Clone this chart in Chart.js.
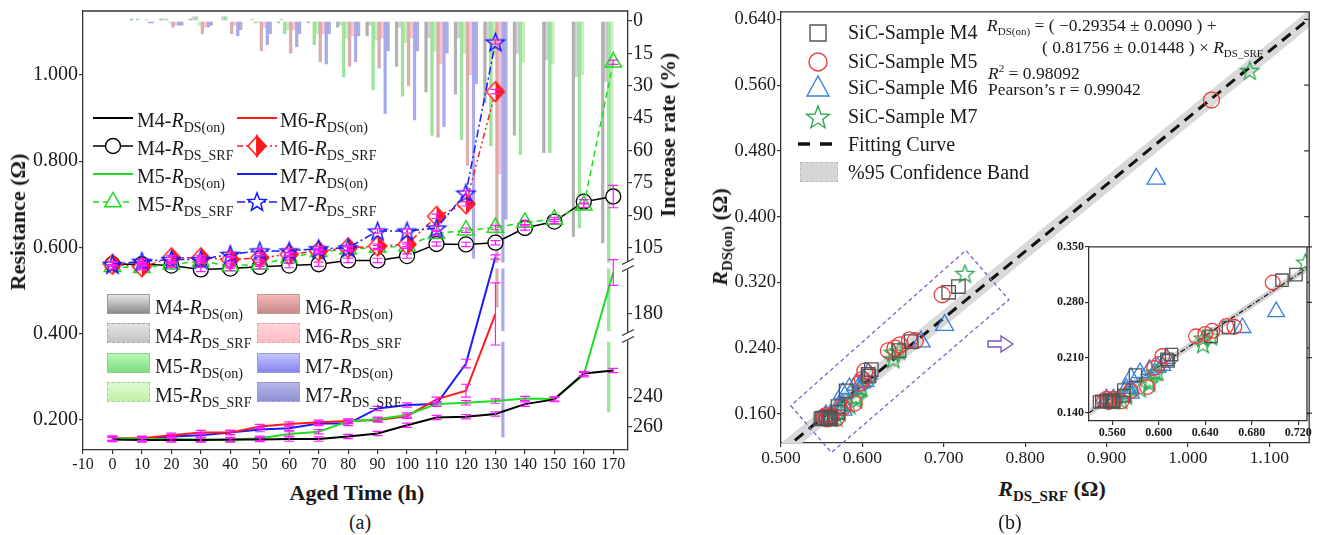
<!DOCTYPE html>
<html>
<head>
<meta charset="utf-8">
<title>SiC MOSFET ageing: R_DS(on) and R_DS_SRF</title>
<script src="https://cdn.jsdelivr.net/npm/chart.js@4.4.1/dist/chart.umd.min.js"></script>
<style>
  body { margin: 0; background: #fff; }
  #fig { position: relative; width: 1321px; height: 535px; overflow: hidden;
         font-family: "Liberation Serif", "Times New Roman", serif; color: #1a1a1a; }
  #fig canvas { position: absolute; }
  .t { position: absolute; white-space: nowrap; line-height: 24px; }
  .lg { font-size: 20px; }
  .lg .s { font-size: 14px; position: relative; top: 5px; }
  .eq { font-size: 17.5px; }
  .eq .s { font-size: 11px; position: relative; top: 4px; }
  .eq sup { font-size: 11px; }
  .ttl { font-size: 22px; font-weight: bold; }
  .ttl .s { font-size: 15px; position: relative; top: 5px; }
  .rot { transform: translate(-50%, -50%) rotate(-90deg); }
  .ctr { transform: translate(-50%, -50%); }
  .sym { position: absolute; overflow: visible; }
  .sw { position: absolute; width: 43px; height: 20px; box-sizing: border-box; }
</style>
</head>
<body>
<div id="fig">
  <canvas id="chartA" width="700" height="470" style="left:0;top:0"></canvas>
  <canvas id="chartB" width="621" height="470" style="left:700px;top:0"></canvas>
  <canvas id="chartC" width="281" height="204" style="left:1040px;top:236px"></canvas>
</div>
<script>
// ---------- panel (a): aged time (h) vs resistance (ohm) ----------
const HOURS = [0, 10, 20, 30, 40, 50, 60, 70, 80, 90, 100, 110, 120, 130, 140, 150, 160, 170];

const M4_RDSON = [0.155, 0.154, 0.154, 0.154, 0.155, 0.155, 0.156, 0.156, 0.162, 0.169, 0.188, 0.206, 0.208, 0.214, 0.237, 0.248, 0.308, 0.315];
const M5_RDSON = [0.158, 0.156, 0.156, 0.155, 0.154, 0.158, 0.168, 0.173, 0.197, 0.202, 0.212, 0.237, 0.240, 0.244, 0.250, 0.249, 0.305, 0.542];
const M6_RDSON = [0.158, 0.158, 0.165, 0.171, 0.171, 0.185, 0.191, 0.195, 0.198, 0.200, 0.209, 0.248, 0.268, 0.446, null, null, null, null];
const M7_RDSON = [0.156, 0.156, 0.162, 0.165, 0.171, 0.178, 0.181, 0.192, 0.192, 0.227, 0.235, 0.237, 0.331, 0.578, null, null, null, null];

const M4_SRF = [0.561, 0.561, 0.558, 0.549, 0.551, 0.555, 0.558, 0.561, 0.570, 0.570, 0.580, 0.608, 0.607, 0.611, 0.645, 0.660, 0.706, 0.718];
const M5_SRF = [0.555, 0.553, 0.561, 0.568, 0.557, 0.561, 0.576, 0.590, 0.596, 0.600, 0.603, 0.632, 0.640, 0.646, 0.658, 0.665, 0.698, 1.029];
const M6_SRF = [0.561, 0.555, 0.576, 0.576, 0.572, 0.576, 0.584, 0.592, 0.599, 0.603, 0.607, 0.672, 0.701, 0.961, null, null, null, null];
const M7_SRF = [0.561, 0.568, 0.572, 0.572, 0.584, 0.592, 0.592, 0.597, 0.599, 0.638, 0.638, 0.645, 0.726, 1.076, null, null, null, null];

// increase rate (%) bars hanging from the top axis
const M4_RDSON_RATE = [0, -1, -1, -1, 0, 0, 1, 1, 3, 7, 21, 33, 34, 38, 53, 61, 100, 103];
const M4_SRF_RATE   = [0, 0, -1, -2, -2, -1, -1, 0, 2, 2, 3, 8, 8, 9, 15, 18, 26, 28];
const M5_RDSON_RATE = [0, -1, -1, -2, -2, 1, 6, 11, 26, 32, 35, 53, 55, 58, 62, 61, 96, 250];
const M5_SRF_RATE   = [0, 0, 1, 2, 0, 1, 4, 6, 8, 9, 10, 14, 15, 16, 19, 20, 25, 85];
const M6_RDSON_RATE = [0, 0, 3, 6, 6, 14, 15, 19, 21, 22, 30, 54, 67, 176, null, null, null, null];
const M6_SRF_RATE   = [0, -1, 2, 3, 2, 3, 4, 6, 7, 8, 8, 20, 25, 71, null, null, null, null];
const M7_RDSON_RATE = [0, 1, 2, 3, 7, 11, 12, 20, 19, 43, 46, 49, 110, 267, null, null, null, null];
const M7_SRF_RATE   = [0, 1, 2, 2, 4, 6, 6, 6, 7, 14, 14, 15, 29, 92, null, null, null, null];

// error bars (ohm): one default, a few larger ones
const ERR_DEFAULT = 0.005;
const ERR_LARGE = [['M6_RDSON', 130, 0.072], ['M5_RDSON', 170, 0.03], ['M4_SRF', 170, 0.026],
                   ['M6_RDSON', 120, 0.015], ['M7_RDSON', 120, 0.01]];

const HOUR_TICKS = [-10, 0, 10, 20, 30, 40, 50, 60, 70, 80, 90, 100, 110, 120, 130, 140, 150, 160, 170];
const RES_TICKS = [0.2, 0.4, 0.6, 0.8, 1.0];
const RATE_TICKS = [0, 15, 30, 45, 60, 75, 90, 105, 180, 240, 260];

// ---------- panel (b): R_DS_SRF vs R_DS(on) ----------
const FIT_SRF = [0.5, 1.15];
const FIT_RON = [0.114, 0.642];
const BAND_UP = [0.1245, 0.6525];
const BAND_DN = [0.1035, 0.6315];
const INSET_FIT_SRF = [0.540, 0.728];
const INSET_FIT_RON = [0.1405, 0.3235];
const INSET_BAND_UP = [0.145, 0.328];
const INSET_BAND_DN = [0.136, 0.319];
const SRF_TICKS = [0.5, 0.6, 0.7, 0.8, 0.9, 1.0, 1.1];
const RON_TICKS = [0.16, 0.24, 0.32, 0.40, 0.48, 0.56, 0.64];
const INSET_X_TICKS = [0.56, 0.60, 0.64, 0.68, 0.72];
const INSET_Y_TICKS = [0.14, 0.21, 0.28, 0.35];
// dashed box drawn around the zoomed cluster (data coordinates)
const ZOOM_BOX = [[0.512, 0.170], [0.562, 0.113], [0.780, 0.299], [0.727, 0.359]];

// ---------- helpers ----------
const xy = (xs, ys) => xs.map((x, i) => ({ x, y: ys[i] })).filter(p => p.x != null && p.y != null);
const fixed = v => Number(v).toFixed(3);
const pinTicks = list => s => { s.ticks = list.map(v => ({ value: v })); };
const box = (w, h) => s => {
  if (w != null) s.width = w;
  if (h != null) s.height = h;
  s.paddingTop = s.paddingBottom = s.paddingLeft = s.paddingRight = 0;
};
function starPts(cx, cy, R, r) {
  const p = [];
  for (let k = 0; k < 10; k++) {
    const a = -Math.PI / 2 + k * Math.PI / 5, rr = k % 2 ? r : R;
    p.push([cx + rr * Math.cos(a), cy + rr * Math.sin(a)]);
  }
  return p;
}
function starImg(color, size, lw) {
  const c = document.createElement('canvas');
  c.width = c.height = size + 4;
  const g = c.getContext('2d');
  g.beginPath();
  starPts(c.width / 2, c.height / 2 + 1, size / 2, size * 0.21).forEach(([x, y]) => g.lineTo(x, y));
  g.closePath();
  g.strokeStyle = color; g.lineWidth = lw; g.stroke();
  return c;
}
function halfDiamondImg(color, w, h) {
  const c = document.createElement('canvas');
  c.width = w + 4; c.height = h + 4;
  const g = c.getContext('2d'), cx = c.width / 2, cy = c.height / 2;
  g.beginPath(); g.moveTo(cx, cy - h / 2); g.lineTo(cx - w / 2, cy); g.lineTo(cx, cy + h / 2); g.closePath();
  g.fillStyle = '#fff'; g.fill();
  g.beginPath(); g.moveTo(cx, cy - h / 2); g.lineTo(cx + w / 2, cy); g.lineTo(cx, cy + h / 2); g.closePath();
  g.fillStyle = color; g.fill();
  g.beginPath(); g.moveTo(cx, cy - h / 2); g.lineTo(cx + w / 2, cy); g.lineTo(cx, cy + h / 2); g.lineTo(cx - w / 2, cy); g.closePath();
  g.strokeStyle = color; g.lineWidth = 1.5; g.stroke();
  return c;
}

Chart.defaults.font.family = '"Liberation Serif", "Times New Roman", serif';
Chart.defaults.color = '#1a1a1a';

// right axis of (a): broken axis, piecewise linear [value, px from plot top]
const RATE_KNOTS = [[-5, -0.8], [112, 252.2], [150, 258], [192, 321], [203, 331.5], [275, 439.5]];
const RATE_BREAKS = [[112, 150], [192, 203]];
class BrokenScale extends Chart.LinearScale {
  getPixelForValue(v) {
    if (v == null) return NaN;
    const k = this.height / 440, K = RATE_KNOTS;
    let i = 0;
    while (i < K.length - 2 && v > K[i + 1][0]) i++;
    const [v0, p0] = K[i], [v1, p1] = K[i + 1];
    return this.top + k * (p0 + (v - v0) * (p1 - p0) / (v1 - v0));
  }
  getValueForPixel(px) {
    const k = this.height / 440, off = (px - this.top) / k, K = RATE_KNOTS;
    let i = 0;
    while (i < K.length - 2 && off > K[i + 1][1]) i++;
    const [v0, p0] = K[i], [v1, p1] = K[i + 1];
    return v0 + (off - p0) * (v1 - v0) / (p1 - p0);
  }
}
BrokenScale.id = 'broken';
BrokenScale.defaults = Chart.LinearScale.defaults;
Chart.register(BrokenScale);

// ---------- plugins ----------
const topLine = {
  id: 'topLine',
  afterDraw(chart) {
    const { ctx, chartArea: a } = chart;
    ctx.save(); ctx.strokeStyle = '#333'; ctx.lineWidth = 1.3;
    ctx.beginPath(); ctx.moveTo(a.left, a.top); ctx.lineTo(a.right, a.top); ctx.stroke();
    ctx.restore();
  }
};
const boxFrame = (dir, white) => ({
  id: 'boxFrame',
  beforeDraw(chart) {
    if (!white) return;
    const { ctx, chartArea: a } = chart;
    ctx.save(); ctx.fillStyle = '#fff'; ctx.fillRect(a.left, a.top, a.right - a.left, a.bottom - a.top); ctx.restore();
  },
  afterDraw(chart) {
    const { ctx, chartArea: a, scales: { y } } = chart;
    ctx.save(); ctx.strokeStyle = '#333'; ctx.lineWidth = 1.3;
    ctx.beginPath(); ctx.moveTo(a.left, a.top); ctx.lineTo(a.right, a.top); ctx.lineTo(a.right, a.bottom);
    y.ticks.forEach(t => { const py = y.getPixelForValue(t.value); ctx.moveTo(a.right, py); ctx.lineTo(a.right + dir * 5, py); });
    ctx.stroke(); ctx.restore();
  }
});
const errorBars = {
  id: 'errorBars',
  afterDatasetsDraw(chart) {
    const { ctx, scales: { x, y } } = chart;
    ctx.save(); ctx.strokeStyle = '#ff19ff'; ctx.lineWidth = 1.2;
    chart.data.datasets.forEach(ds => {
      if (!ds.errKey) return;
      ds.data.forEach(p => {
        const big = ERR_LARGE.find(e => e[0] === ds.errKey && e[1] === p.x);
        const e = big ? big[2] : ERR_DEFAULT;
        const px = x.getPixelForValue(p.x), y1 = y.getPixelForValue(p.y + e), y2 = y.getPixelForValue(p.y - e);
        ctx.beginPath();
        ctx.moveTo(px, y1); ctx.lineTo(px, y2);
        ctx.moveTo(px - 5, y1); ctx.lineTo(px + 5, y1);
        ctx.moveTo(px - 5, y2); ctx.lineTo(px + 5, y2);
        ctx.stroke();
      });
    });
    ctx.restore();
  }
};
const axisBreaks = {
  id: 'axisBreaks',
  afterDatasetDraw(chart, args) {
    const ds = chart.data.datasets[args.index];
    if (ds.type !== 'bar') return;
    const s = chart.scales.yRate, ctx = chart.ctx;
    const gaps = RATE_BREAKS.map(([a, b]) => [s.getPixelForValue(a), s.getPixelForValue(b)]);
    ctx.save(); ctx.fillStyle = '#fff';
    args.meta.data.forEach(el => {
      const top = Math.min(el.y, el.base), bot = Math.max(el.y, el.base);
      gaps.forEach(([g1, g2]) => { if (top < g1 && bot > g2) ctx.fillRect(el.x - el.width / 2 - 1, g1, el.width + 2, g2 - g1); });
    });
    ctx.restore();
  },
  afterDraw(chart) {
    const s = chart.scales.yRate, ctx = chart.ctx, xr = chart.chartArea.right;
    ctx.save();
    RATE_BREAKS.forEach(([a, b]) => {
      const py = (s.getPixelForValue(a) + s.getPixelForValue(b)) / 2;
      ctx.fillStyle = '#fff'; ctx.fillRect(xr - 3, py - 4, 6, 8);
      ctx.strokeStyle = '#333'; ctx.lineWidth = 1.3;
      ctx.beginPath();
      ctx.moveTo(xr - 6, py - 1); ctx.lineTo(xr + 6, py - 7);
      ctx.moveTo(xr - 6, py + 6); ctx.lineTo(xr + 6, py);
      ctx.stroke();
    });
    ctx.restore();
  }
};
const zoomBox = {
  id: 'zoomBox',
  afterDatasetsDraw(chart) {
    const { ctx, scales: { x, y } } = chart;
    ctx.save(); ctx.strokeStyle = '#8a5cc6'; ctx.lineWidth = 1.3; ctx.setLineDash([4, 3]);
    ctx.beginPath();
    ZOOM_BOX.forEach(([a, b]) => ctx.lineTo(x.getPixelForValue(a), y.getPixelForValue(b)));
    ctx.closePath(); ctx.stroke(); ctx.restore();
  }
};

const axisStyle = (size, bold) => ({
  grid: { drawOnChartArea: false, tickLength: 4, color: '#333', lineWidth: 1.2, offset: false },
  border: { color: '#333', width: 1.3 },
  ticks: { font: { size, weight: bold ? 'bold' : 'normal' }, color: '#1a1a1a', autoSkip: false, maxRotation: 0, padding: 1, includeBounds: false }
});

// ---------- chart (a) ----------
const barColors = [
  ['rgba(140,140,140,0.45)', 'rgba(120,120,120,0.5)'],
  ['rgba(200,200,200,0.45)', 'rgba(165,165,165,0.5)'],
  ['rgba(120,230,120,0.50)', 'rgba(90,200,90,0.55)'],
  ['rgba(190,242,165,0.50)', 'rgba(150,210,130,0.5)'],
  ['rgba(210,135,135,0.45)', 'rgba(185,110,110,0.5)'],
  ['rgba(255,180,195,0.50)', 'rgba(235,150,170,0.5)'],
  ['rgba(130,130,245,0.45)', 'rgba(105,105,220,0.5)'],
  ['rgba(150,150,215,0.50)', 'rgba(120,120,195,0.55)']
];
const rateSeries = [M4_RDSON_RATE, M4_SRF_RATE, M5_RDSON_RATE, M5_SRF_RATE, M6_RDSON_RATE, M6_SRF_RATE, M7_RDSON_RATE, M7_SRF_RATE];
const barSets = rateSeries.map((vals, i) => ({
  type: 'bar', yAxisID: 'yRate', order: 10,
  data: xy(HOURS, vals).filter(p => p.x > 0),
  backgroundColor: barColors[i][0], borderColor: barColors[i][1], borderWidth: 1,
  barThickness: 3
}));

const GREEN = '#1edc1e', RED = '#ff1a1a', BLUE = '#1a1aff';
const lineSets = [
  { key: 'M4_RDSON', data: xy(HOURS, M4_RDSON), borderColor: '#000', borderWidth: 2, pointRadius: 0, order: 5 },
  { key: 'M5_RDSON', data: xy(HOURS, M5_RDSON), borderColor: GREEN, borderWidth: 2, pointRadius: 0, order: 5 },
  { key: 'M6_RDSON', data: xy(HOURS, M6_RDSON), borderColor: RED, borderWidth: 2, pointRadius: 0, order: 5 },
  { key: 'M7_RDSON', data: xy(HOURS, M7_RDSON), borderColor: BLUE, borderWidth: 2, pointRadius: 0, order: 5 },
  { key: 'M4_SRF', data: xy(HOURS, M4_SRF), borderColor: '#000', borderWidth: 1.5, pointStyle: 'circle', pointRadius: 7.5,
    pointBorderColor: '#000', pointBackgroundColor: '#fff', pointBorderWidth: 1.3, order: 4 },
  { key: 'M5_SRF', data: xy(HOURS, M5_SRF), borderColor: GREEN, borderWidth: 1.5, borderDash: [6, 4], pointStyle: 'triangle', pointRadius: 9.5,
    pointBorderColor: GREEN, pointBackgroundColor: 'rgba(255,255,255,0)', pointBorderWidth: 1.5, order: 3 },
  { key: 'M6_SRF', data: xy(HOURS, M6_SRF), borderColor: RED, borderWidth: 1.5, borderDash: [6, 3, 2, 3, 2, 3],
    pointStyle: halfDiamondImg(RED, 18, 20), order: 2 },
  { key: 'M7_SRF', data: xy(HOURS, M7_SRF), borderColor: BLUE, borderWidth: 1.5, borderDash: [8, 3, 2, 3],
    pointStyle: starImg(BLUE, 19, 1.5), order: 1 }
].map(d => Object.assign({ type: 'line', yAxisID: 'y', errKey: d.key, tension: 0, fill: false }, d));

new Chart(document.getElementById('chartA'), {
  type: 'line',
  data: { datasets: [...barSets, ...lineSets] },
  options: {
    responsive: false, animation: false, events: [],
    layout: { padding: { top: 10, left: 0, right: 0, bottom: 0 } },
    plugins: { legend: { display: false }, tooltip: { enabled: false } },
    scales: {
      x: Object.assign(axisStyle(16), { type: 'linear', min: -10, max: 175, offset: false,
        afterBuildTicks: pinTicks(HOUR_TICKS), afterFit: box(null, 20) }),
      y: Object.assign(axisStyle(20), { type: 'linear', position: 'left', min: 0.1307, max: 1.1478,
        afterBuildTicks: pinTicks(RES_TICKS), afterFit: box(83, null) }),
      yRate: Object.assign(axisStyle(20), { type: 'broken', position: 'right', min: -5, max: 275,
        afterBuildTicks: pinTicks(RATE_TICKS), afterFit: box(72, null) })
    }
  },
  plugins: [topLine, errorBars, axisBreaks]
});
Chart.getChart('chartA').options.scales.y.ticks.callback = fixed;
Chart.getChart('chartA').update('none');

// ---------- chart (b) and its inset ----------
const C4 = '#555', C5 = '#f23c3c', C6 = '#3a7fe0', C7 = '#2da84d';
function scatterSets(big) {
  const k = big ? 1 : 0.92;
  return [
    { data: xy(M4_SRF, M4_RDSON), pointStyle: 'rect', pointRadius: 9.5 * k, pointBorderColor: C4 },
    { data: xy(M5_SRF, M5_RDSON), pointStyle: 'circle', pointRadius: 8 * k, pointBorderColor: C5 },
    { data: xy(M6_SRF, M6_RDSON), pointStyle: 'triangle', pointRadius: 10.5 * k, pointBorderColor: C6 },
    { data: xy(M7_SRF, M7_RDSON), pointStyle: starImg(C7, big ? 19 : 18, 1.3) }
  ].map(d => Object.assign({ type: 'line', showLine: false, pointBackgroundColor: 'rgba(255,255,255,0)', pointBorderWidth: 1.3, order: 1 }, d));
}
function fitSets(xs, ys, up, dn, dash, lw, band) {
  return [
    { data: xy(xs, up), borderWidth: 0, pointRadius: 0, fill: '+1', backgroundColor: band, order: 6 },
    { data: xy(xs, dn), borderWidth: 0, pointRadius: 0, fill: false, order: 6 },
    { data: xy(xs, ys), borderColor: '#111', borderWidth: lw, borderDash: dash, pointRadius: 0, fill: false, order: 5 }
  ].map(d => Object.assign({ type: 'line', tension: 0 }, d));
}

new Chart(document.getElementById('chartB'), {
  type: 'line',
  data: { datasets: [...fitSets(FIT_SRF, FIT_RON, BAND_UP, BAND_DN, [11, 7], 3, '#d9d9d9'), ...scatterSets(true)] },
  options: {
    responsive: false, animation: false, events: [],
    layout: { padding: { top: 7, left: 0, right: 4, bottom: 0 } },
    plugins: { legend: { display: false }, tooltip: { enabled: false } },
    scales: {
      x: Object.assign(axisStyle(17.5), { type: 'linear', min: 0.5, max: 1.149,
        afterBuildTicks: pinTicks(SRF_TICKS), afterFit: box(null, 27) }),
      y: Object.assign(axisStyle(18.5), { type: 'linear', min: 0.1246, max: 0.6493,
        afterBuildTicks: pinTicks(RON_TICKS), afterFit: box(81, null) })
    }
  },
  plugins: [boxFrame(-1, false), zoomBox]
});

new Chart(document.getElementById('chartC'), {
  type: 'line',
  data: { datasets: [...fitSets(INSET_FIT_SRF, INSET_FIT_RON, INSET_BAND_UP, INSET_BAND_DN, [5, 2, 1, 2], 1.2, '#cfcfcf'), ...scatterSets(false)] },
  options: {
    responsive: false, animation: false, events: [],
    layout: { padding: { top: 9, left: 0, right: 14, bottom: 0 } },
    plugins: { legend: { display: false }, tooltip: { enabled: false } },
    scales: {
      x: Object.assign(axisStyle(12, true), { type: 'linear', min: 0.540, max: 0.7275,
        afterBuildTicks: pinTicks(INSET_X_TICKS), afterFit: box(null, 19) }),
      y: Object.assign(axisStyle(12, true), { type: 'linear', min: 0.130, max: 0.350,
        afterBuildTicks: pinTicks(INSET_Y_TICKS), afterFit: box(49, null) })
    }
  },
  plugins: [boxFrame(1, true)]
});
['chartB', 'chartC'].forEach(id => {
  const c = Chart.getChart(id);
  c.options.scales.x.ticks.callback = fixed;
  c.options.scales.y.ticks.callback = fixed;
  c.update('none');
});

// ---------- legends and titles (HTML text) ----------
const fig = document.getElementById('fig');
const txt = (x, y, html, cls) => `<div class="t ${cls || ''}" style="left:${x}px;top:${y}px">${html}</div>`;
const svg = (x, y, w, h, inner) => `<svg class="sym" style="left:${x}px;top:${y}px" width="${w}" height="${h}">${inner}</svg>`;
const R = sub => `<i>R</i><span class="s">${sub}</span>`;
const poly = (pts, stroke, fill, lw) => `<polygon points="${pts.map(p => p.join(',')).join(' ')}" fill="${fill}" stroke="${stroke}" stroke-width="${lw}"/>`;
const ln = (color, dash, w) => `<line x1="0" y1="10" x2="40" y2="10" stroke="${color}" stroke-width="${w}" ${dash ? `stroke-dasharray="${dash}"` : ''}/>`;

let html = '';
// line legend of (a)
const legA = [
  [93, 118, ln('#000', '', 2), 'M4-' + R('DS(on)')],
  [93, 146, ln('#000', '', 1.5) + '<circle cx="20" cy="10" r="7.5" fill="#fff" stroke="#000" stroke-width="1.4"/>', 'M4-' + R('DS_SRF')],
  [93, 174, ln(GREEN, '', 2), 'M5-' + R('DS(on)')],
  [93, 202, ln(GREEN, '6 4', 1.5) + poly([[20, 0.5], [11.8, 14.8], [28.2, 14.8]], GREEN, '#fff', 1.5), 'M5-' + R('DS_SRF')],
  [237, 118, ln(RED, '', 2), 'M6-' + R('DS(on)')],
  [237, 146, ln(RED, '6 3 2 3 2 3', 1.5) + poly([[20, 0], [11, 10], [20, 20]], RED, '#fff', 1.5) + poly([[20, 0], [29, 10], [20, 20]], RED, RED, 1.5), 'M6-' + R('DS_SRF')],
  [237, 174, ln(BLUE, '', 2), 'M7-' + R('DS(on)')],
  [237, 202, ln(BLUE, '8 3 2 3', 1.5) + poly(starPts(20, 10.5, 9.5, 4), BLUE, '#fff', 1.5), 'M7-' + R('DS_SRF')]
];
legA.forEach(([x, yc, sym, label]) => {
  html += svg(x, yc - 10, 40, 20, sym);
  html += txt(x + (x < 200 ? 44 : 43), yc - 10, label, 'lg');
});
// bar legend of (a)
const swatches = [
  'background:linear-gradient(#e4e4e4,#8c8c8c);border:1px solid #9a9a9a',
  'background:linear-gradient(#e2e2e2,#c4c4c4);border:1px dashed #a8a8a8',
  'background:linear-gradient(#b4f7b4,#7fe07f);border:1px solid #8fcf8f',
  'background:linear-gradient(#dcfad0,#c2f0a8);border:1px dashed #a8cf9c',
  'background:linear-gradient(#f5b8b8,#c48a8a);border:1px solid #c69a9a',
  'background:linear-gradient(#ffd3da,#ffbcc6);border:1px dashed #e6a3b0',
  'background:linear-gradient(#c4c4ff,#8585f0);border:1px solid #9b9bd0',
  'background:linear-gradient(#b6b6ea,#8e8ed2);border:1px dashed #9a9ac4'
];
const legB = ['M4-' + R('DS(on)'), 'M4-' + R('DS_SRF'), 'M5-' + R('DS(on)'), 'M5-' + R('DS_SRF'),
              'M6-' + R('DS(on)'), 'M6-' + R('DS_SRF'), 'M7-' + R('DS(on)'), 'M7-' + R('DS_SRF')];
legB.forEach((label, i) => {
  const col = Math.floor(i / 4), row = i % 4, yc = 304 + row * 29.3, x = col ? 257 : 107;
  html += `<div class="sw" style="left:${x}px;top:${yc - 10}px;${swatches[i]}"></div>`;
  html += txt(x + 48, yc - 9, label, 'lg');
});
// legend of (b)
const legC = [
  [33, poly([[4, 4], [20, 4], [20, 20], [4, 20]], C4, 'none', 1.4), 'SiC-Sample M4'],
  [62, `<circle cx="12" cy="12" r="9" fill="none" stroke="${C5}" stroke-width="1.4"/>`, 'SiC-Sample M5'],
  [88, poly([[12, 0], [1, 20], [23, 20]], C6, 'none', 1.4), 'SiC-Sample M6'],
  [117, poly(starPts(12, 13, 12, 5), C7, 'none', 1.4), 'SiC-Sample M7']
];
legC.forEach(([yc, sym, label]) => {
  html += svg(806, yc - 12, 24, 24, sym);
  html += txt(848, yc - 13, label, 'lg');
});
html += svg(798, 134, 40, 20, ln('#111', '12 10', 3.5));
html += txt(848, 132, 'Fitting Curve', 'lg');
html += `<div class="sw" style="left:800px;top:162px;width:38px;height:20px;background:#d6d6d6;border:1.5px dashed #bcbcbc"></div>`;
html += txt(848, 160, '%95 Confidence Band', 'lg');
// equation
html += txt(987, 13, R('DS(on)') + ' = ( −0.29354 ± 0.0090 ) +', 'eq');
html += txt(1042, 35, '( 0.81756 ± 0.01448 ) × ' + R('DS_SRF'), 'eq');
html += txt(988, 56, '<i>R</i><sup>2</sup> = 0.98092', 'eq');
html += txt(988, 77, 'Pearson’s r = 0.99042', 'eq');
// arrow toward the inset
html += svg(986, 334, 30, 20, `<polygon points="2,7 15,7 15,2 27,10 15,18 15,13 2,13" fill="#fff" stroke="#7a50c0" stroke-width="1.3"/>`);
// axis titles
html += txt(18, 222, 'Resistance (Ω)', 'ttl rot');
html += txt(668, 135, 'Increase rate (%)', 'ttl rot');
html += txt(357, 493, 'Aged Time (h)', 'ttl ctr');
html += txt(721, 237, R('DS(on)') + ' (Ω)', 'ttl rot');
html += txt(1052, 490, R('DS_SRF') + ' (Ω)', 'ttl ctr');
html += txt(360, 522, '(a)', 'lg ctr');
html += txt(1010, 522, '(b)', 'lg ctr');
fig.insertAdjacentHTML('beforeend', html);
</script>
</body>
</html>
